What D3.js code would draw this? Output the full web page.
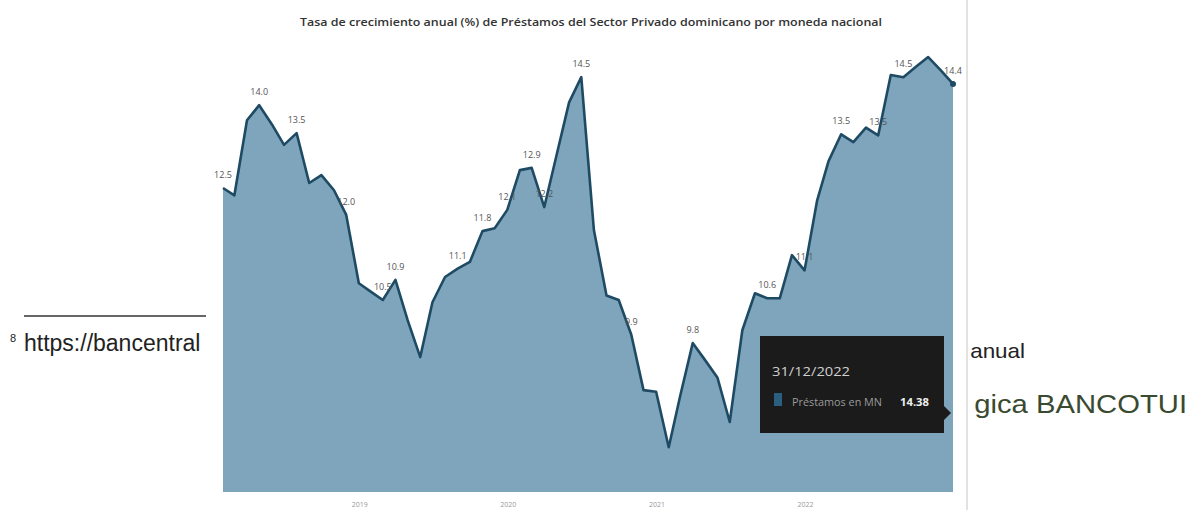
<!DOCTYPE html>
<html>
<head>
<meta charset="utf-8">
<script src="https://cdn.jsdelivr.net/npm/d3@7"></script>
<style>
  body { margin: 0; background: #fff; }
  svg { display: block; }
</style>
</head>
<body>
<div id="area"></div>
<script>
var width = 1194;
var height = 510;

// monthly growth rate (%), Jan 2018 .. Dec 2022 (month-end dates)
var startMonth = "2018-01";
var values = [
  12.52, 12.39, 13.73, 14.0, 13.66, 13.29, 13.5, 12.61, 12.75, 12.48, 12.04, 10.82,
  10.66, 10.52, 10.88, 10.16, 9.5, 10.48, 10.93, 11.08, 11.2, 11.75, 11.8, 12.13,
  12.84, 12.88, 12.18, 13.1, 14.05, 14.5, 11.77, 10.6, 10.52, 9.9, 8.91, 8.88,
  7.89, 8.8, 9.75, 9.45, 9.13, 8.34, 9.98, 10.64, 10.55, 10.55, 11.32, 11.05,
  12.3, 13.0, 13.48, 13.34, 13.6, 13.46, 14.54, 14.5, 14.68, 14.86, 14.63, 14.38
];
// which points carry a data label
var labelIdx = [0, 3, 6, 10, 13, 14, 19, 21, 23, 25, 26, 29, 33, 38, 44, 47, 50, 53, 55, 59];
var yearTicks = [2019, 2020, 2021, 2022];

var chartTitle = "Tasa de crecimiento anual (%) de Préstamos del Sector Privado dominicano por moneda nacional";
var seriesName = "Préstamos en MN";

// month-end dates
var parseMonth = d3.timeParse("%Y-%m");
var first = parseMonth(startMonth);
var dates = values.map(function(v, i) {
  return d3.timeDay.offset(d3.timeMonth.offset(first, i + 1), -1);
});
var data = values.map(function(v, i) { return { date: dates[i], value: v }; });

var svg = d3.select("#area").append("svg")
  .attr("width", width)
  .attr("height", height);

// ---- surrounding document text (only the parts left visible around the chart image)
var doc = svg.append("g").attr("font-family", "'Liberation Sans', Arial, sans-serif");

doc.append("line")
  .attr("x1", 24).attr("x2", 206)
  .attr("y1", 316).attr("y2", 316)
  .attr("stroke", "#333").attr("stroke-width", 1.5);

doc.append("text").attr("x", 10).attr("y", 342)
  .attr("font-size", 11).attr("fill", "#222").text("8");
doc.append("text").attr("x", 24).attr("y", 351)
  .attr("font-size", 23).attr("fill", "#222").text("https://bancentral");

doc.append("text")
  .attr("transform", "translate(1025,358) scale(1.12,1)")
  .attr("text-anchor", "end")
  .attr("font-size", 20).attr("fill", "#222").text("anual");
doc.append("text")
  .attr("transform", "translate(1187,413) scale(1.17,1)")
  .attr("text-anchor", "end")
  .attr("font-size", 25).attr("fill", "#3a4a30").text("gica BANCOTUI");

// ---- chart image
var chart = svg.append("g");

chart.append("rect") // Rahmen
  .attr("x", 208).attr("y", 0)
  .attr("width", 760).attr("height", height)
  .attr("fill", "#fff");
chart.append("line")
  .attr("x1", 967).attr("x2", 967)
  .attr("y1", 0).attr("y2", height)
  .attr("stroke", "#e2e2e2").attr("stroke-width", 2);

var x = d3.scaleTime()
  .domain(d3.extent(dates))
  .range([223, 953]);

var y = d3.scaleLinear()
  .domain([7.09, 15.2])
  .range([492, 38]);

chart.append("text")
  .attr("x", 591).attr("y", 26)
  .attr("text-anchor", "middle")
  .attr("font-family", "'Open Sans', 'Noto Sans', sans-serif")
  .attr("font-size", 11)
  .attr("font-weight", 600)
  .attr("fill", "#333")
  .attr("textLength", 582)
  .attr("lengthAdjust", "spacingAndGlyphs")
  .text(chartTitle);

var area = d3.area()
  .x(function(d) { return x(d.date); })
  .y0(y(y.domain()[0]))
  .y1(function(d) { return y(d.value); });

var line = d3.line()
  .x(function(d) { return x(d.date); })
  .y(function(d) { return y(d.value); });

chart.append("path")
  .datum(data)
  .attr("d", area)
  .attr("fill", "#7fa5bd");

chart.append("path")
  .datum(data)
  .attr("d", line)
  .attr("fill", "none")
  .attr("stroke", "#1e4b63")
  .attr("stroke-width", 2.6)
  .attr("stroke-linejoin", "round");

// end marker
chart.append("circle")
  .attr("cx", x(dates[dates.length - 1]))
  .attr("cy", y(values[values.length - 1]))
  .attr("r", 3)
  .attr("fill", "#1e4b63");

// data labels
chart.append("g")
  .attr("font-family", "'Open Sans', 'Noto Sans', sans-serif")
  .attr("font-size", 9)
  .attr("fill", "#555")
  .attr("text-anchor", "middle")
  .selectAll("text")
  .data(labelIdx)
  .join("text")
  .attr("x", function(i) { return x(dates[i]); })
  .attr("y", function(i) { return y(values[i]) - 10; })
  .text(function(i) { return d3.format(".1f")(values[i]); });

// x axis (year labels only)
var xAxis = d3.axisBottom(x)
  .tickValues(yearTicks.map(function(yr) { return new Date(yr, 0, 1); }))
  .tickFormat(d3.timeFormat("%Y"))
  .tickSize(0)
  .tickPadding(6);

chart.append("g")
  .attr("transform", "translate(0,496)")
  .call(xAxis)
  .call(function(g) { g.select(".domain").remove(); })
  .selectAll("text")
  .attr("font-family", "'Open Sans', sans-serif")
  .attr("font-size", 7)
  .attr("fill", "#999");

// tooltip
var tip = chart.append("g").attr("font-family", "'Open Sans', 'Noto Sans', sans-serif");
tip.append("rect")
  .attr("x", 760).attr("y", 336)
  .attr("width", 184).attr("height", 97)
  .attr("fill", "#1b1b1b");
tip.append("path")
  .attr("d", "M944,406 L951,413 L944,420 Z")
  .attr("fill", "#1b1b1b");
tip.append("text")
  .attr("x", 772).attr("y", 376)
  .attr("font-size", 13).attr("fill", "#d0d0d0")
  .attr("textLength", 78).attr("lengthAdjust", "spacingAndGlyphs")
  .text(d3.timeFormat("%d/%m/%Y")(dates[dates.length - 1]));
tip.append("rect")
  .attr("x", 774).attr("y", 393)
  .attr("width", 8).attr("height", 13)
  .attr("fill", "#2b5f80");
tip.append("text")
  .attr("x", 792).attr("y", 406)
  .attr("font-size", 10).attr("fill", "#9a9a9a")
  .attr("textLength", 90).attr("lengthAdjust", "spacingAndGlyphs")
  .text(seriesName);
tip.append("text")
  .attr("x", 900).attr("y", 406)
  .attr("font-size", 10.5).attr("font-weight", 700).attr("fill", "#eee")
  .attr("textLength", 29).attr("lengthAdjust", "spacingAndGlyphs")
  .text(d3.format(".2f")(values[values.length - 1]));
</script>
</body>
</html>
